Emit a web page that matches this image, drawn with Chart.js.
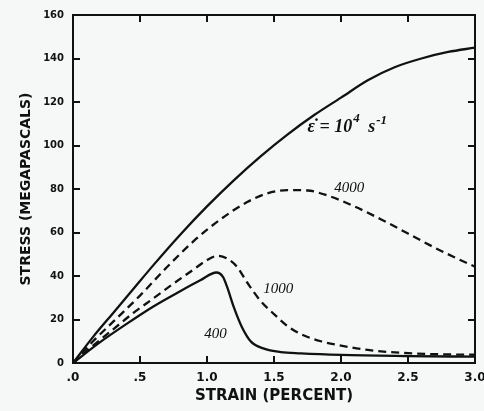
<!DOCTYPE html>
<html>
<head>
<meta charset="utf-8">
<script src="https://cdn.jsdelivr.net/npm/chart.js@4/dist/chart.umd.min.js"></script>
<style>
  html, body { margin: 0; padding: 0; background: #f6f7f7; overflow: hidden; width: 484px; height: 411px; }
  #wrap { position: relative; width: 500px; height: 411px; }
</style>
</head>
<body>
<div id="wrap"><canvas id="c"></canvas></div>
<script>
// ---- data ----
const rate1e4Strain = [0, 0.15, 0.3, 0.45, 0.6, 0.8, 1.0, 1.2, 1.4, 1.6, 1.8, 2.0, 2.2, 2.4, 2.6, 2.8, 3.0];
const rate1e4Stress = [0, 12, 23, 34, 45, 59, 72, 84, 95, 105, 114, 122, 130, 136, 140, 143, 145];

const rate4000Strain = [0, 0.15, 0.3, 0.5, 0.7, 0.9, 1.1, 1.3, 1.45, 1.6, 1.75, 1.9, 2.1, 2.3, 2.5, 2.7, 2.85, 3.0];
const rate4000Stress = [0, 10, 19, 31, 44, 56, 66, 74, 78, 79.5, 79.3, 77, 72, 66, 59.5, 53, 48.5, 44.3];

const rate1000Strain = [0, 0.15, 0.3, 0.45, 0.6, 0.75, 0.9, 1.0, 1.08, 1.15, 1.22, 1.3, 1.4, 1.5, 1.6, 1.7, 1.85, 2.0, 2.2, 2.5, 2.75, 3.0];
const rate1000Stress = [0, 8, 15.5, 23, 29.7, 36.5, 43, 47.3, 49.3, 48, 44.5, 37, 28.5, 22.5, 17, 13.3, 10, 8, 6, 4.5, 4, 3.8];

const rate400Strain = [0, 0.2, 0.4, 0.6, 0.8, 0.95, 1.07, 1.12, 1.15, 1.2, 1.26, 1.33, 1.42, 1.55, 1.7, 2.0, 2.5, 3.0];
const rate400Stress = [0, 9.5, 18, 26, 33, 38, 41.6, 39.5, 35, 25.7, 16.6, 9.7, 6.7, 5, 4.4, 3.7, 3.2, 2.9];

const xTickValues = [0, 0.5, 1.0, 1.5, 2.0, 2.5, 3.0];
const xTickLabels = ['.0', '.5', '1.0', '1.5', '2.0', '2.5', '3.0'];
const yTickValues = [0, 20, 40, 60, 80, 100, 120, 140, 160];
const yTickLabels = ['0', '20', '40', '60', '80', '100', '120', '140', '160'];

const xTitle = 'STRAIN (PERCENT)';
const yTitle = 'STRESS (MEGAPASCALS)';

// curve labels (data-space anchors)
const curveLabels = [
  { kind: 'rate', x: 1.75, y: 106 },
  { text: '4000', x: 1.95, y: 78.5 },
  { text: '1000', x: 1.42, y: 32 },
  { text: '400',  x: 0.98, y: 11.5 }
];

function pts(xs, ys) { return xs.map((x, i) => ({ x: x, y: ys[i] })); }

const INK = '#111';

const framePlugin = {
  id: 'frame',
  afterDraw(chart) {
    const ctx = chart.ctx;
    const a = chart.chartArea;
    const sx = chart.scales.x, sy = chart.scales.y;
    ctx.save();
    ctx.strokeStyle = INK;
    ctx.lineWidth = 2;
    ctx.strokeRect(a.left, a.top, a.right - a.left, a.bottom - a.top);
    const tl = 7;
    ctx.beginPath();
    for (const v of xTickValues) {
      if (v <= 0 || v >= 3) continue;
      const px = Math.round(sx.getPixelForValue(v));
      ctx.moveTo(px, a.bottom); ctx.lineTo(px, a.bottom - tl);
      ctx.moveTo(px, a.top); ctx.lineTo(px, a.top + tl);
    }
    for (const v of yTickValues) {
      if (v <= 0 || v >= 160) continue;
      const py = Math.round(sy.getPixelForValue(v));
      ctx.moveTo(a.left, py); ctx.lineTo(a.left + tl, py);
      ctx.moveTo(a.right, py); ctx.lineTo(a.right - tl, py);
    }
    ctx.lineWidth = 2;
    ctx.stroke();

    // curve labels
    ctx.fillStyle = INK;
    ctx.textBaseline = 'alphabetic';
    ctx.textAlign = 'left';
    curveLabels.forEach(l => {
      const px = sx.getPixelForValue(l.x);
      const py = sy.getPixelForValue(l.y);
      if (l.kind === 'rate') {
        let cx = px;
        const parts = [
          { t: 'ε\u0307 = 10', f: 'italic bold 18px "Liberation Serif"', dy: 0 },
          { t: '4', f: 'italic bold 13px "Liberation Serif"', dy: -10 },
          { t: ' s', f: 'italic bold 18px "Liberation Serif"', dy: 0 },
          { t: '-1', f: 'italic bold 13px "Liberation Serif"', dy: -8 }
        ];
        parts.forEach(p => {
          ctx.font = p.f;
          ctx.fillText(p.t, cx, py + p.dy);
          cx += ctx.measureText(p.t).width + (p.t === '4' ? 4 : 1);
        });
      } else {
        ctx.font = 'italic 15px "Liberation Serif"';
        ctx.fillText(l.text, px, py);
      }
    });
    ctx.restore();
  }
};

const lineStyle = { borderColor: INK, borderWidth: 2.3, pointRadius: 0, fill: false, cubicInterpolationMode: 'monotone' };

new Chart(document.getElementById('c'), {
  type: 'line',
  data: {
    datasets: [
      Object.assign({ label: '10^4 s^-1', data: pts(rate1e4Strain, rate1e4Stress) }, lineStyle),
      Object.assign({ label: '4000', data: pts(rate4000Strain, rate4000Stress), borderDash: [8, 5] }, lineStyle),
      Object.assign({ label: '1000', data: pts(rate1000Strain, rate1000Stress), borderDash: [8, 5] }, lineStyle),
      Object.assign({ label: '400', data: pts(rate400Strain, rate400Stress) }, lineStyle)
    ]
  },
  options: {
    responsive: true,
    maintainAspectRatio: false,
    devicePixelRatio: 1,
    animation: false,
    layout: { padding: { top: 12, right: 25, bottom: 0, left: 0 } },
    plugins: { legend: { display: false }, tooltip: { enabled: false } },
    scales: {
      x: {
        type: 'linear', min: 0, max: 3.0,
        afterBuildTicks(s) { s.ticks = xTickValues.map(v => ({ value: v })); },
        afterFit(s) { s.height = 48; },
        grid: { display: false, drawTicks: false }, border: { display: false },
        ticks: {
          color: INK, padding: 8, maxRotation: 0, autoSkip: false,
          font: { family: '"DejaVu Sans"', size: 12, weight: 'bold' },
          callback(v) { const i = xTickValues.indexOf(v); return i >= 0 ? xTickLabels[i] : ''; }
        },
        title: { display: true, text: xTitle, color: INK, padding: { top: 0, bottom: 6 },
          font: { family: '"DejaVu Sans"', size: 15, weight: 'bold' } }
      },
      y: {
        type: 'linear', min: 0, max: 160,
        afterBuildTicks(s) { s.ticks = yTickValues.map(v => ({ value: v })); },
        afterFit(s) { s.width = 73; },
        grid: { display: false, drawTicks: false }, border: { display: false },
        ticks: {
          color: INK, padding: 9, autoSkip: false,
          font: { family: '"DejaVu Sans"', size: 10, weight: 'bold' },
          callback(v) { const i = yTickValues.indexOf(v); return i >= 0 ? yTickLabels[i] : ''; }
        },
        title: { display: true, text: yTitle, color: INK, padding: { top: 18, bottom: 0 },
          font: { family: '"DejaVu Sans"', size: 14, weight: 'bold' } }
      }
    }
  },
  plugins: [framePlugin]
});
</script>
</body>
</html>
